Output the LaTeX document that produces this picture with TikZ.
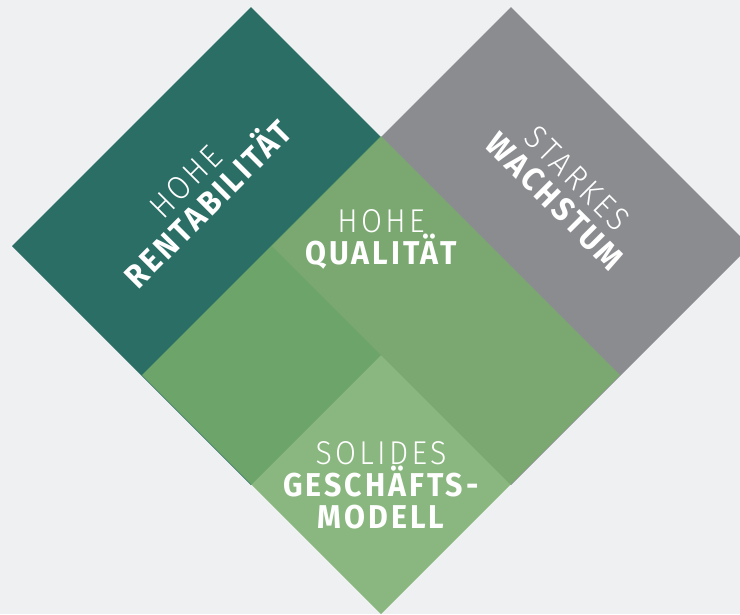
\documentclass[tikz,border=0pt]{standalone}
\usepackage{fontspec}
\setmainfont{Fira Sans}
\newfontfamily\tilelight{Fira Sans Light}[FakeStretch=0.92,LetterSpace=10]
\newfontfamily\tilebold{Fira Sans}[FakeStretch=0.92,LetterSpace=9]
\usepackage{xcolor}
\definecolor{paper}{HTML}{EFF0F2}
\definecolor{rentcol}{HTML}{2B6E66}
\definecolor{wachscol}{HTML}{8B8C90}
\definecolor{qualcol}{HTML}{78AE6B}
\tikzset{
  every tile/.style={text=white, align=center, inner sep=0pt,
    font=\fontsize{33}{32}\selectfont},
}

\begin{document}
\begin{tikzpicture}[x=1pt, y=-1pt]

\useasboundingbox (0,0) rectangle (740,614);
\fill[paper] (0,0) rectangle (740,614);

\fill[rentcol] (12,246) -- (251,7) -- (490,246) -- (251,485) -- cycle;
\fill[wachscol] (272,246) -- (511,7) -- (750,246) -- (511,485) -- cycle;
\fill[qualcol, fill opacity=0.85] (142,375) -- (381,136) -- (620,375) -- (381,614) -- cycle;

\node [every tile/.try, rotate=45] (rent) at (197,193)
  {{\tilelight HOHE}\\{\tilebold\bfseries RENTABILITÄT}};

\node [every tile/.try, rotate=-45] (wachs) at (566,190)
  {{\tilelight STARKES}\\{\tilebold\bfseries WACHSTUM}};

\node [every tile/.try] (qual) at (381,239)
  {{\tilelight HOHE}\\{\tilebold\bfseries QUALITÄT}};

\node [every tile/.try] (solid) at (381,485)
  {{\tilelight SOLIDES}\\{\tilebold\bfseries GESCHÄFTS-}\\{\tilebold\bfseries MODELL}};

\end{tikzpicture}
\end{document}
